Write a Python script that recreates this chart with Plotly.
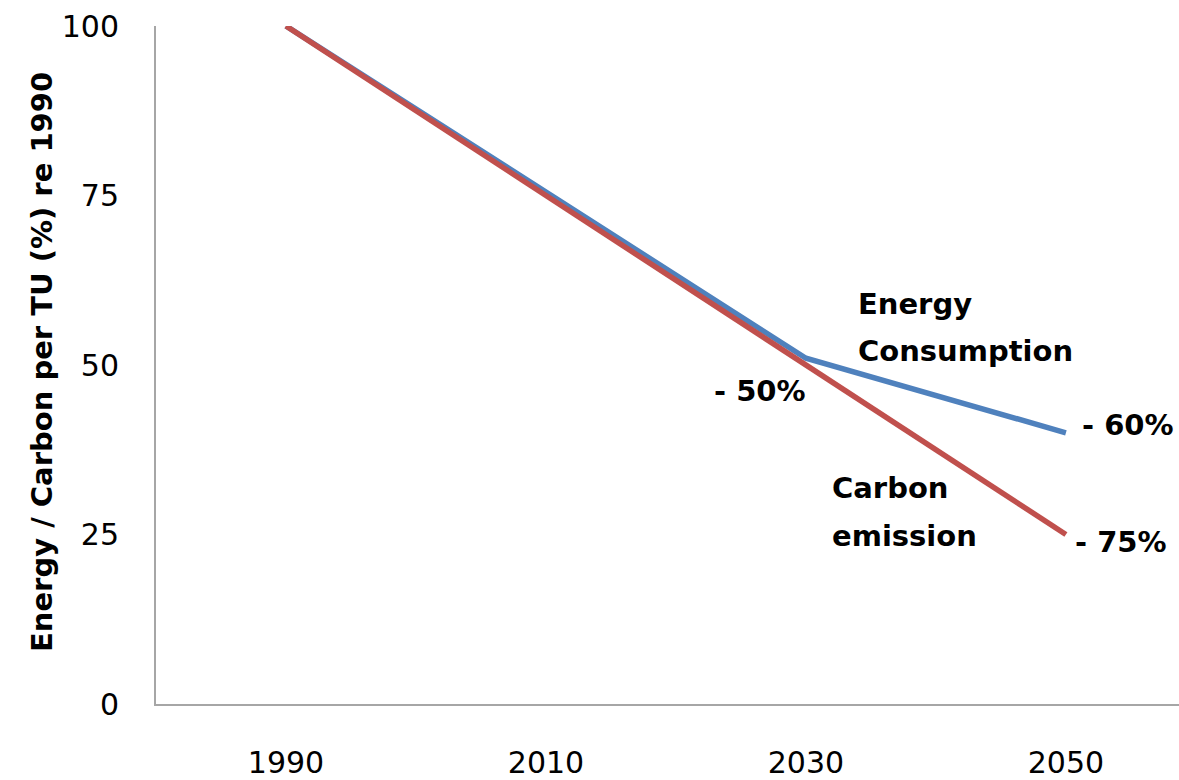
import plotly.graph_objects as go

# Reduction pathway per transport unit, indexed to 1990 = 100
years = ["1990", "2010", "2030", "2050"]
energy = [100, 75.5, 51, 40]
carbon = [100, 75, 50, 25]
y_ticks = [0, 25, 50, 75, 100]

W, H = 1179, 780
L, R, T, B = 156, 0, 26, 68
pw, ph = W - L - R, H - T - B

def px(x):
    return (x - L) / pw

def py(y):
    return (H - B - y) / ph

BLUE = "#4F81BD"
RED = "#C0504D"
FONT = "DejaVu Sans, sans-serif"

fig = go.Figure()
fig.add_trace(go.Scatter(x=years, y=energy, mode="lines",
                         line=dict(color=BLUE, width=5.5), name="Energy Consumption"))
fig.add_trace(go.Scatter(x=years, y=carbon, mode="lines",
                         line=dict(color=RED, width=5.5), name="Carbon emission"))

fig.update_layout(
    width=W, height=H,
    margin=dict(l=L, r=R, t=T, b=B),
    paper_bgcolor="white", plot_bgcolor="white",
    showlegend=False,
    font=dict(family=FONT, color="black"),
)
fig.update_xaxes(
    type="category", categoryorder="array", categoryarray=years,
    range=[-0.5, 3.435],
    showgrid=False, zeroline=False,
    showline=True, linecolor="#A6A6A6", linewidth=2,
    ticks="", tickfont=dict(size=30, family=FONT),
    ticklabelstandoff=31,
)
fig.update_yaxes(
    range=[0, 100], tickvals=y_ticks,
    showgrid=False, zeroline=False,
    showline=True, linecolor="#A6A6A6", linewidth=2,
    ticks="", tickfont=dict(size=30, family=FONT),
    ticklabelstandoff=29,
)

bold = dict(size=29, family=FONT, color="black")
notes = [
    ("<b>Energy</b>", 856, 307, "left"),
    ("<b>Consumption</b>", 856, 355, "left"),
    ("<b>- 50%</b>", 760, 395, "center"),
    ("<b>- 60%</b>", 1128, 430, "center"),
    ("<b>Carbon</b>", 830, 493, "left"),
    ("<b>emission</b>", 830, 542, "left"),
    ("<b>- 75%</b>", 1121, 548, "center"),
]
for text, x, y, anchor in notes:
    fig.add_annotation(text=text, xref="paper", yref="paper",
                       x=px(x), y=py(y), xanchor=anchor, yanchor="middle",
                       showarrow=False, font=bold)

fig.add_annotation(text="<b>Energy / Carbon per TU (%) re 1990</b>",
                   xref="paper", yref="paper", x=px(42), y=py(366),
                   xanchor="center", yanchor="middle", textangle=-90,
                   showarrow=False, font=bold)

fig.write_html("out.html")
